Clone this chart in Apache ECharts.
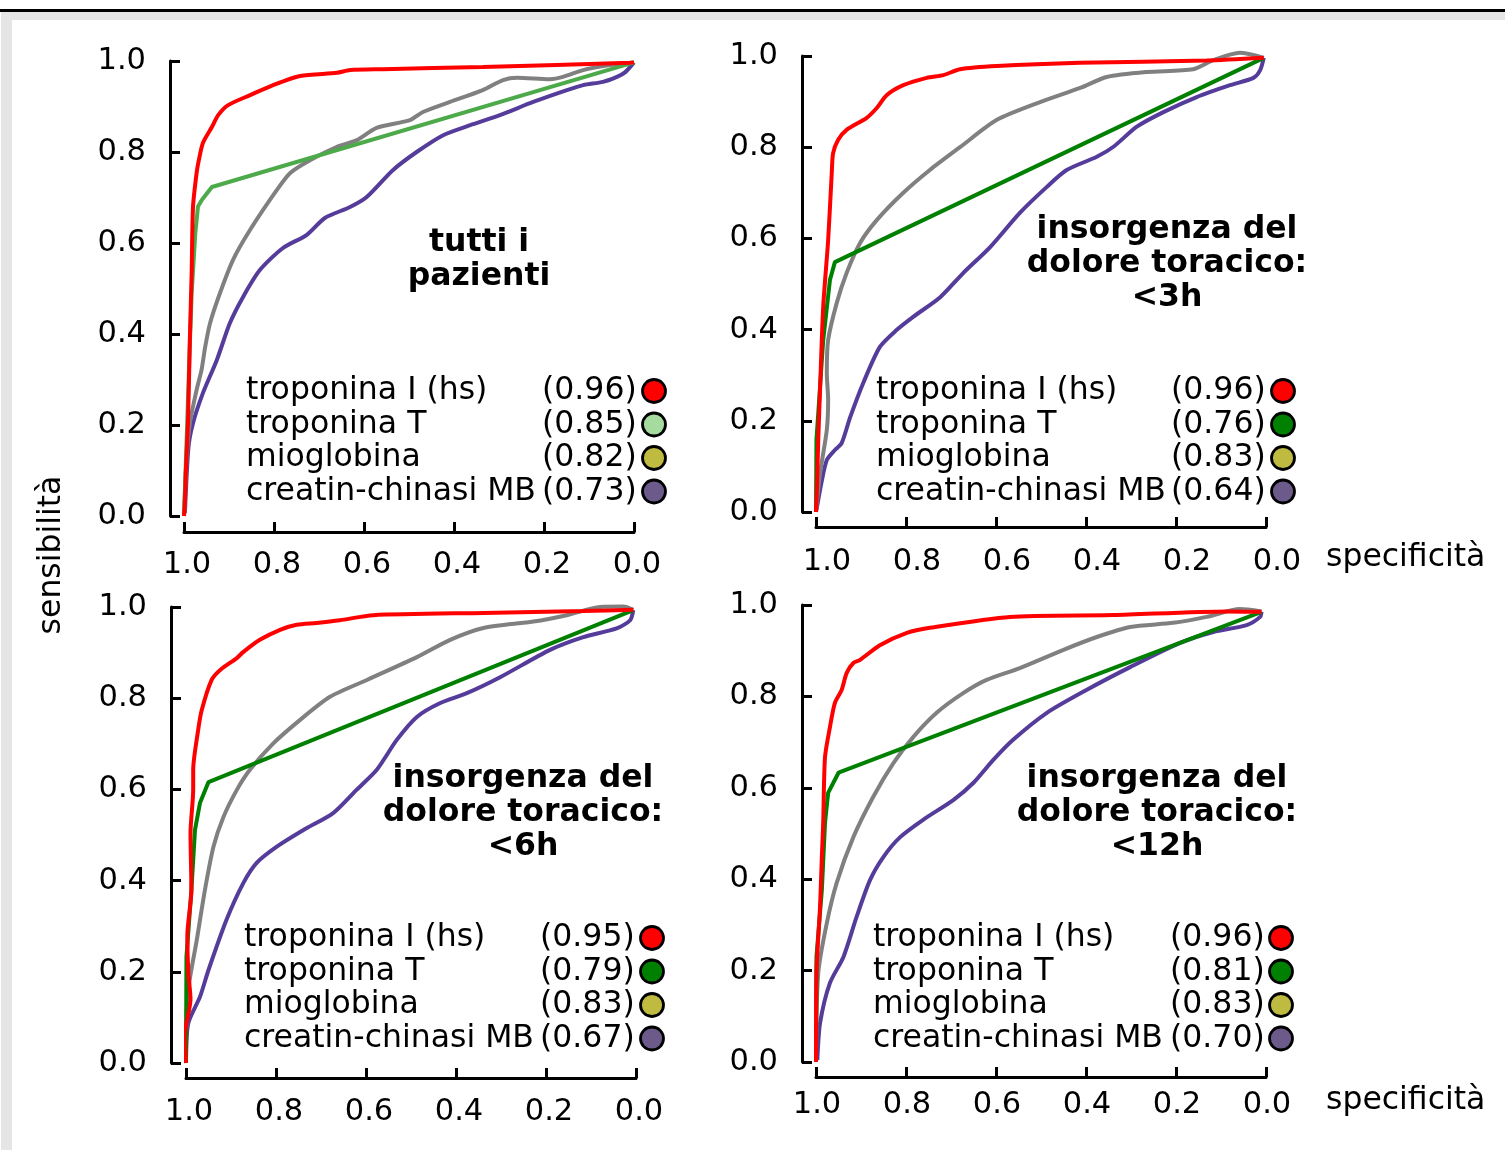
<!DOCTYPE html>
<html>
<head>
<meta charset="utf-8">
<script src="https://cdn.jsdelivr.net/npm/echarts@6/dist/echarts.min.js"></script>
<style>
  html, body { margin: 0; padding: 0; background: #fff; }
  #chart { width: 1505px; height: 1150px; }
</style>
</head>
<body>
<div id="chart"></div>
<script>
// nomi dei marcatori (legenda)
const markerNames = ['troponina I (hs)', 'troponina T', 'mioglobina', 'creatin-chinasi MB'];

// AUC per pannello
const aucAll = ['0.96', '0.85', '0.82', '0.73'];
const auc3h = ['0.96', '0.76', '0.83', '0.64'];
const auc6h = ['0.95', '0.79', '0.83', '0.67'];
const auc12h = ['0.96', '0.81', '0.83', '0.70'];

const panelTitles = ['tutti i\npazienti', 'insorgenza del\ndolore toracico:\n<3h', 'insorgenza del\ndolore toracico:\n<6h', 'insorgenza del\ndolore toracico:\n<12h'];

// curve ROC: [specificità, sensibilità]
// tutti i pazienti
const allTnI = [[1.0,0.0],[0.998,0.03],[0.996,0.095],[0.991,0.211],[0.987,0.387],[0.983,0.534],[0.980,0.679],[0.972,0.754],[0.967,0.782],[0.958,0.820],[0.938,0.855],[0.924,0.881],[0.902,0.903],[0.853,0.925],[0.802,0.947],[0.742,0.967],[0.660,0.974],[0.631,0.980],[0.558,0.982],[0.336,0.987],[0.009,0.996],[0.0,0.997]];
const allTnT = [[1.0,0.0],[0.993,0.2],[0.988,0.35],[0.983,0.49],[0.975,0.62],[0.969,0.68],[0.96,0.695],[0.938,0.723],[0.0,0.997]];
const allMyo = [[1.0,0.0],[0.994,0.13],[0.987,0.204],[0.972,0.277],[0.961,0.321],[0.953,0.371],[0.942,0.424],[0.92,0.49],[0.891,0.563],[0.853,0.629],[0.794,0.716],[0.764,0.754],[0.72,0.782],[0.661,0.811],[0.616,0.826],[0.572,0.853],[0.498,0.87],[0.469,0.888],[0.409,0.91],[0.336,0.936],[0.291,0.958],[0.26,0.963],[0.187,0.96],[0.158,0.965],[0.113,0.98],[0.053,0.991],[0.0,0.997]];
const allCK = [[0.998,0.007],[0.99,0.152],[0.98,0.204],[0.958,0.27],[0.927,0.343],[0.898,0.424],[0.869,0.481],[0.831,0.541],[0.78,0.589],[0.727,0.618],[0.687,0.655],[0.631,0.679],[0.594,0.701],[0.536,0.76],[0.483,0.8],[0.424,0.837],[0.364,0.859],[0.298,0.881],[0.224,0.91],[0.149,0.936],[0.113,0.947],[0.069,0.954],[0.038,0.965],[0.02,0.975],[0.0,0.997]];

// < 3h
const h3TnI = [[1.0,0.0],[0.998,0.05],[0.995,0.158],[0.991,0.268],[0.984,0.45],[0.973,0.596],[0.965,0.743],[0.962,0.787],[0.951,0.816],[0.932,0.838],[0.888,0.864],[0.865,0.886],[0.843,0.914],[0.806,0.936],[0.754,0.952],[0.717,0.958],[0.68,0.971],[0.598,0.978],[0.413,0.985],[0.132,0.99],[0.005,0.996]];
const h3TnT = [[1.0,0.0],[0.999,0.158],[0.984,0.377],[0.969,0.509],[0.958,0.548],[0.005,0.996]];
const h3Myo = [[1.0,0.0],[0.991,0.085],[0.976,0.18],[0.973,0.246],[0.976,0.305],[0.973,0.377],[0.954,0.458],[0.932,0.524],[0.902,0.59],[0.865,0.64],[0.806,0.7],[0.747,0.75],[0.68,0.8],[0.598,0.86],[0.502,0.899],[0.413,0.93],[0.354,0.954],[0.265,0.965],[0.162,0.971],[0.117,0.991],[0.058,1.007],[0.005,0.996]];
const h3CK = [[0.999,0.004],[0.988,0.064],[0.976,0.114],[0.958,0.136],[0.943,0.151],[0.924,0.208],[0.895,0.283],[0.858,0.362],[0.821,0.399],[0.784,0.428],[0.724,0.471],[0.673,0.524],[0.613,0.581],[0.547,0.656],[0.487,0.713],[0.443,0.75],[0.376,0.779],[0.339,0.801],[0.287,0.845],[0.228,0.877],[0.154,0.91],[0.08,0.936],[0.028,0.952],[0.013,0.969],[0.005,0.996]];

// < 6h
const h6TnI = [[1.0,0.0],[1.003,0.06],[0.99,0.14],[0.995,0.2],[0.997,0.28],[0.988,0.379],[0.99,0.504],[0.984,0.6],[0.984,0.643],[0.973,0.73],[0.965,0.774],[0.943,0.84],[0.924,0.862],[0.887,0.888],[0.873,0.901],[0.836,0.928],[0.791,0.95],[0.754,0.961],[0.71,0.965],[0.658,0.971],[0.584,0.982],[0.339,0.987],[0.117,0.991],[0.006,0.994]];
const h6TnT = [[1.0,0.0],[0.999,0.233],[0.988,0.379],[0.98,0.511],[0.969,0.57],[0.95,0.616],[0.006,0.993]];
const h6Myo = [[1.0,0.0],[1.0,0.029],[0.995,0.16],[0.976,0.27],[0.958,0.379],[0.939,0.474],[0.917,0.539],[0.887,0.599],[0.858,0.643],[0.806,0.701],[0.747,0.752],[0.68,0.803],[0.598,0.84],[0.487,0.89],[0.413,0.928],[0.339,0.954],[0.228,0.968],[0.154,0.982],[0.08,1.0],[0.028,1.001],[0.006,0.994]];
const h6CK = [[1.0,0.003],[0.995,0.087],[0.969,0.145],[0.95,0.204],[0.91,0.314],[0.873,0.394],[0.843,0.439],[0.799,0.474],[0.739,0.511],[0.673,0.548],[0.621,0.599],[0.576,0.643],[0.532,0.708],[0.487,0.759],[0.436,0.789],[0.376,0.811],[0.302,0.846],[0.191,0.906],[0.117,0.934],[0.043,0.953],[0.013,0.971],[0.006,0.993]];

// < 12h
const h12TnI = [[1.0,0.0],[0.999,0.195],[0.991,0.339],[0.987,0.449],[0.984,0.523],[0.98,0.667],[0.969,0.733],[0.958,0.786],[0.943,0.814],[0.932,0.851],[0.917,0.873],[0.902,0.88],[0.858,0.912],[0.798,0.939],[0.747,0.95],[0.569,0.974],[0.339,0.978],[0.087,0.986],[0.01,0.985]];
const h12TnT = [[1.0,0.0],[0.999,0.23],[0.987,0.376],[0.98,0.523],[0.973,0.589],[0.95,0.633],[0.01,0.985]];
const h12Myo = [[1.0,0.012],[0.995,0.195],[0.976,0.304],[0.954,0.392],[0.917,0.492],[0.873,0.58],[0.828,0.654],[0.784,0.711],[0.732,0.764],[0.673,0.807],[0.621,0.836],[0.547,0.862],[0.45,0.902],[0.376,0.93],[0.302,0.952],[0.206,0.961],[0.132,0.974],[0.058,0.991],[0.01,0.986]];
const h12CK = [[0.997,0.004],[0.991,0.085],[0.969,0.173],[0.939,0.23],[0.91,0.317],[0.88,0.398],[0.85,0.449],[0.813,0.492],[0.762,0.53],[0.695,0.573],[0.65,0.611],[0.606,0.661],[0.562,0.705],[0.487,0.764],[0.399,0.814],[0.302,0.864],[0.191,0.917],[0.117,0.941],[0.043,0.956],[0.013,0.974],[0.01,0.985]];

const panelCurves = [
  [allTnI, allTnT, allMyo, allCK],
  [h3TnI, h3TnT, h3Myo, h3CK],
  [h6TnI, h6TnT, h6Myo, h6CK],
  [h12TnI, h12TnT, h12Myo, h12CK]
];
const panelAuc = [aucAll, auc3h, auc6h, auc12h];

const FONT = '"DejaVu Sans", sans-serif';

// layout dei pannelli (pixel)
const layout = [
  { left: 184, top: 61, h: 455, yOff: 14, xOff: 16, xMargin: 18, xPad: 6, title: [479, 243], leg: [246, 542, 654, 391] },
  { left: 816, top: 56, h: 456, yOff: 14, xOff: 15, xMargin: 20, xPad: 22, title: [1167, 230], leg: [876, 1171, 1283, 391] },
  { left: 186, top: 607, h: 456, yOff: 15, xOff: 15, xMargin: 19, xPad: 6, title: [523, 779], leg: [244, 540, 652, 938] },
  { left: 816, top: 605, h: 457, yOff: 14, xOff: 15, xMargin: 13, xPad: 2, title: [1157, 779], leg: [873, 1170, 1281, 938] }
];

const lineColors = ['#ff0000', '#008000', '#808080', '#553c9a'];
const dotColors = ['#ff0000', '#008000', '#bfbb40', '#6b5a8a'];

let myCharts = echarts.init(document.getElementById('chart'), null, { renderer: 'canvas' });

let grid = [], xAxis = [], yAxis = [], series = [], graphic = [];

// cornice
graphic.push({ type: 'rect', shape: { x: 0, y: 9, width: 1505, height: 3 }, style: { fill: '#000' } });
graphic.push({ type: 'rect', shape: { x: 1, y: 12, width: 1504, height: 8 }, style: { fill: '#e5e5e5' } });
graphic.push({ type: 'rect', shape: { x: 1, y: 12, width: 11, height: 1138 }, style: { fill: '#e5e5e5' } });

layout.forEach((p, i) => {
  grid.push({ left: p.left, top: p.top, width: 450, height: p.h, containLabel: false });
  xAxis.push({
    type: 'value', gridIndex: i, min: 0, max: 1, interval: 0.2, inverse: true,
    position: 'bottom', offset: p.xOff,
    axisLine: { show: true, onZero: false, lineStyle: { color: '#000', width: 3 } },
    axisTick: { show: true, inside: true, length: 10, lineStyle: { color: '#000', width: 3 } },
    axisLabel: { margin: p.xMargin, fontSize: 30.5, color: '#000', fontFamily: FONT, padding: [0, 0, 0, p.xPad],
      formatter: v => v.toFixed(1), showMinLabel: true, showMaxLabel: true },
    splitLine: { show: false }
  });
  yAxis.push({
    type: 'value', gridIndex: i, min: 0, max: 1, interval: 0.2,
    position: 'left', offset: p.yOff,
    axisLine: { show: true, onZero: false, lineStyle: { color: '#000', width: 3 } },
    axisTick: { show: true, inside: true, length: 10, lineStyle: { color: '#000', width: 3 } },
    axisLabel: { margin: 24, fontSize: 30.5, color: '#000', fontFamily: FONT, padding: [7, 0, 0, 0],
      formatter: v => v.toFixed(1), showMinLabel: true, showMaxLabel: true },
    splitLine: { show: false }
  });

  // ordine di disegno: CK-MB, mioglobina, troponina T, troponina I
  [3, 2, 1, 0].forEach(k => {
    let color = lineColors[k];
    if (i === 0 && k === 1) color = '#4daa4a';
    series.push({
      type: 'line', xAxisIndex: i, yAxisIndex: i, name: markerNames[k],
      data: panelCurves[i][k], showSymbol: false, symbol: 'none', clip: false,
      smooth: k === 1 ? false : 0.25,
      lineStyle: { color: color, width: 4 },
      silent: true
    });
  });

  // titolo del pannello (centrato sulla prima riga)
  const nLines = panelTitles[i].split('\n').length;
  graphic.push({
    type: 'text', x: p.title[0], y: p.title[1] + (nLines - 1) * 17,
    style: { text: panelTitles[i], font: 'bold 31.5px ' + FONT, fill: '#000', align: 'center', verticalAlign: 'middle', lineHeight: 34 }
  });

  // legenda
  markerNames.forEach((name, k) => {
    const y = p.leg[3] + k * 33.5;
    graphic.push({ type: 'text', x: p.leg[0], y: y, style: { text: name, font: '31.5px ' + FONT, fill: '#000', align: 'left', verticalAlign: 'middle' } });
    graphic.push({ type: 'text', x: p.leg[1], y: y, style: { text: '(' + panelAuc[i][k] + ')', font: '31.5px ' + FONT, fill: '#000', align: 'left', verticalAlign: 'middle' } });
    let dot = dotColors[k];
    if (i === 0 && k === 1) dot = '#a6dba0';
    graphic.push({ type: 'circle', shape: { cx: p.leg[2], cy: y, r: 11.5 }, style: { fill: dot, stroke: '#000', lineWidth: 2.8 } });
  });
});

// nomi degli assi
graphic.push({ type: 'text', x: 1326, y: 558, style: { text: 'specificità', font: '31.5px ' + FONT, fill: '#000', align: 'left', verticalAlign: 'middle' } });
graphic.push({ type: 'text', x: 1326, y: 1101, style: { text: 'specificità', font: '31.5px ' + FONT, fill: '#000', align: 'left', verticalAlign: 'middle' } });
graphic.push({ type: 'text', x: 52, y: 555, rotation: Math.PI / 2, style: { text: 'sensibilità', font: '31.5px ' + FONT, fill: '#000', align: 'center', verticalAlign: 'middle' } });

myCharts.setOption({
  animation: false,
  backgroundColor: '#fff',
  grid: grid,
  xAxis: xAxis,
  yAxis: yAxis,
  series: series,
  graphic: graphic
});
</script>
</body>
</html>
